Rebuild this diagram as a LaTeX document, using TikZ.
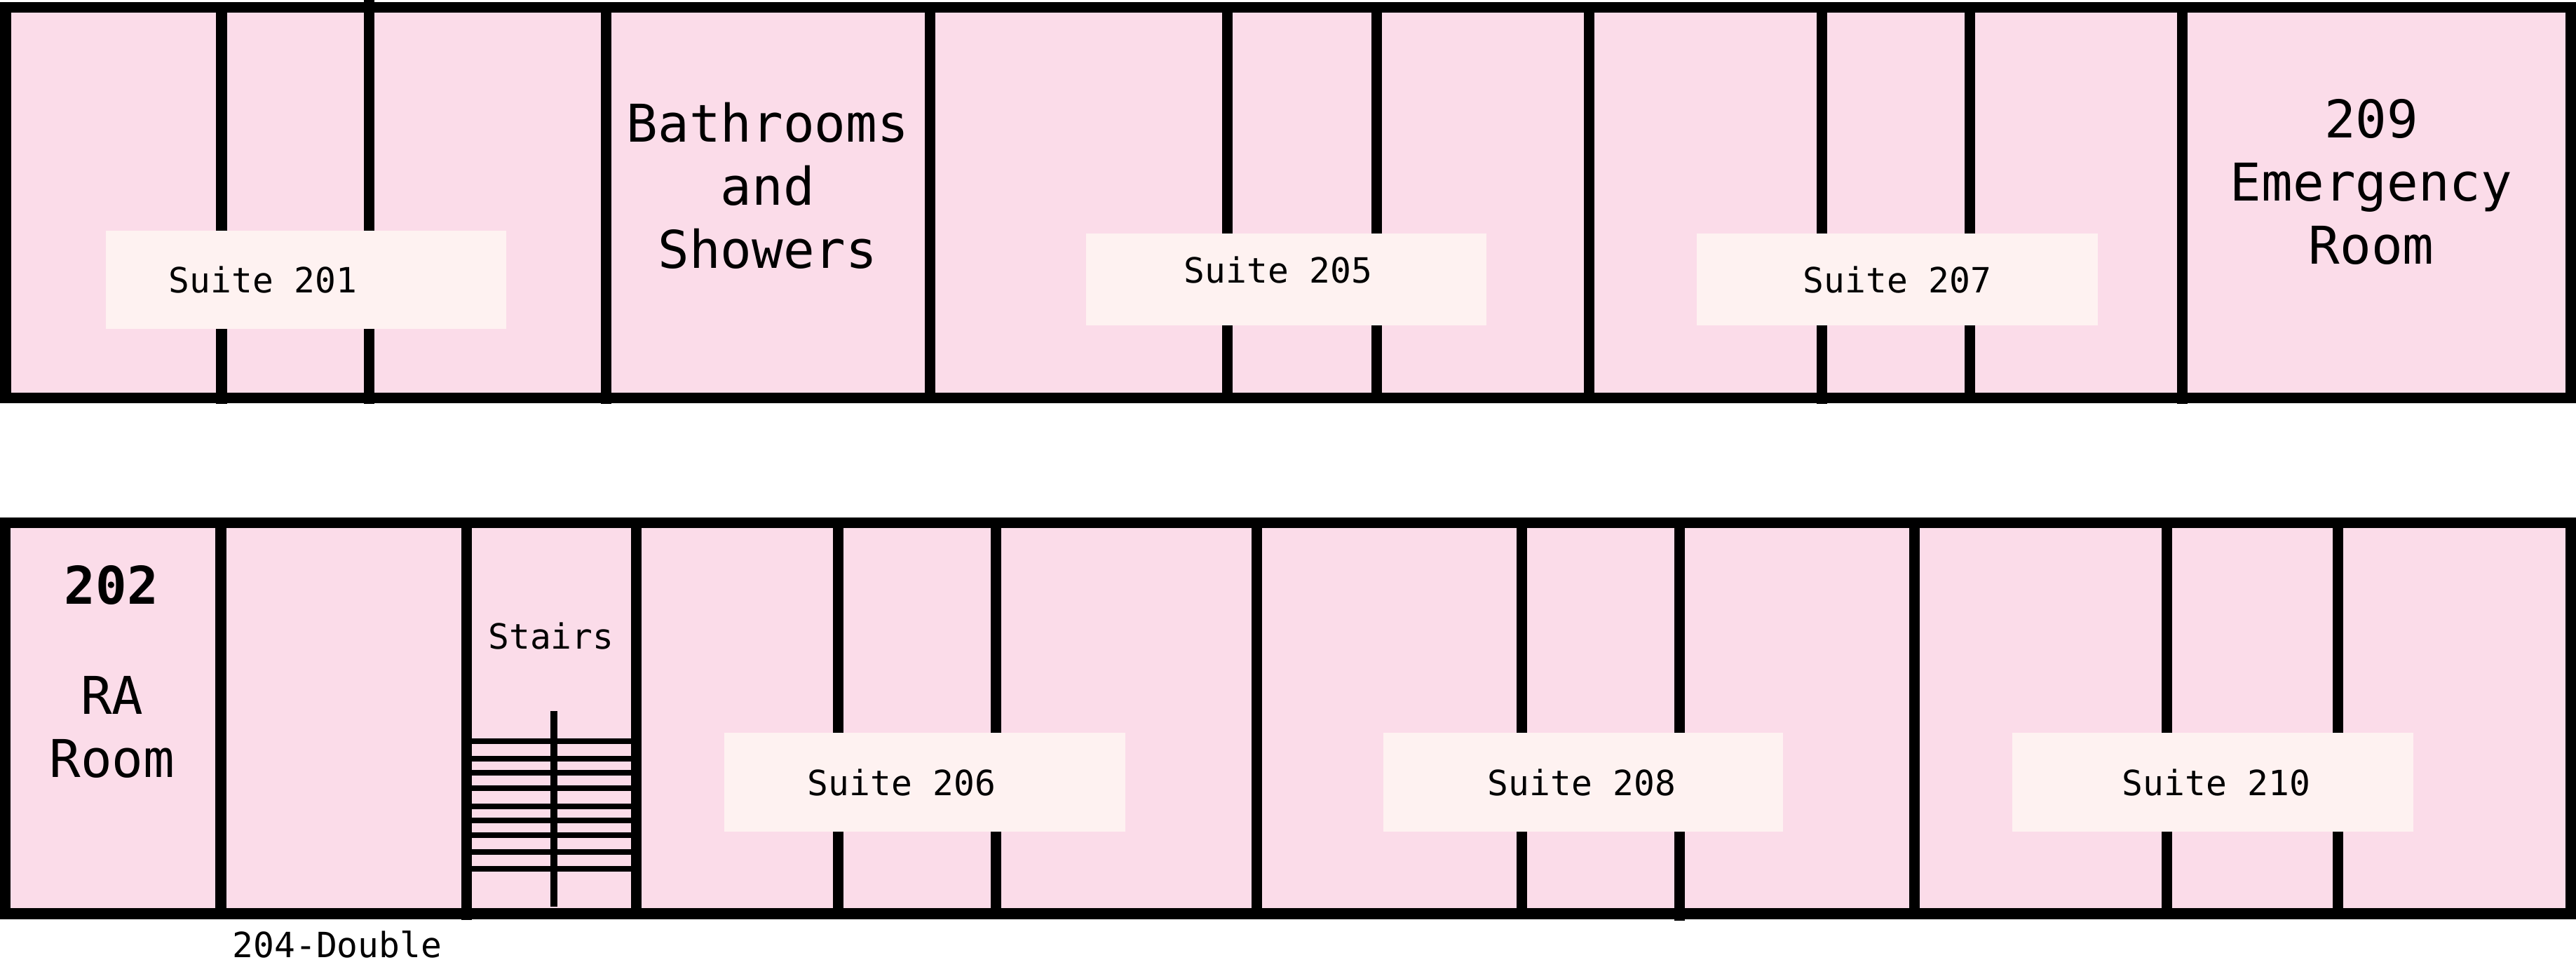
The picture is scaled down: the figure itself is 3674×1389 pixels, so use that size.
\documentclass[tikz,border=0pt]{standalone}
\usepackage{fontspec}
\usepackage{tikz}
\setmainfont{DejaVu Sans Mono}
\definecolor{roompink}{HTML}{FBDCE9}
\definecolor{tagpink}{HTML}{FEF2F1}
\tikzset{
    wall/.style={line width=0.15cm, black}, % outer and inner walls
    tread/.style={line width=0.075cm, black}, % stair steps
    band/.style={fill=roompink, draw=none},
    tag/.style={fill=tagpink, draw=none}, % pale strip under a suite name
    big label/.style={anchor=base, inner sep=0pt, align=center, font=\fontsize{21.1}{25.6}\selectfont},
    small label/.style={anchor=base, inner sep=0pt, font=\fontsize{14.1}{17}\selectfont}
}
\begin{document}
\begin{tikzpicture}[x=0.01cm, y=-0.01cm]

    \useasboundingbox (0, 0) rectangle (3674, 1389);

    % top row
    \fill[band] (8, 11) rectangle (3666, 568);
    \draw[wall] (316, 11) -- (316, 576);
    \draw[wall] (526, 0) -- (526, 576);
    \draw[wall] (864, 11) -- (864, 576);
    \draw[wall] (1326, 11) -- (1326, 575);
    \draw[wall] (1750, 11) -- (1750, 575);
    \draw[wall] (1963, 11) -- (1963, 575);
    \draw[wall] (2266, 11) -- (2266, 575);
    \draw[wall] (2598, 11) -- (2598, 576);
    \draw[wall] (2809, 11) -- (2809, 575);
    \draw[wall] (3112, 11) -- (3112, 576);
    \draw[wall] (8, 11) rectangle (3666, 568);

    % bottom row
    \fill[band] (7, 746) rectangle (3666, 1303);
    \draw[wall] (315, 746) -- (315, 1311);
    \draw[wall] (665, 746) -- (665, 1312);
    \draw[wall] (907, 746) -- (907, 1311);
    \draw[wall] (1195, 746) -- (1195, 1310);
    \draw[wall] (1420, 746) -- (1420, 1310);
    \draw[wall] (1792, 746) -- (1792, 1310);
    \draw[wall] (2170, 746) -- (2170, 1310);
    \draw[wall] (2395, 746) -- (2395, 1313);
    \draw[wall] (2730, 746) -- (2730, 1310);
    \draw[wall] (3090, 746) -- (3090, 1310);
    \draw[wall] (3334, 746) -- (3334, 1310);
    \draw[wall] (7, 746) rectangle (3666, 1303);

    % stairs
    \draw[tread] (665, 1057) -- (907, 1057);
    \draw[tread] (665, 1082) -- (907, 1082);
    \draw[tread] (665, 1102) -- (907, 1102);
    \draw[tread] (665, 1124) -- (914, 1124);
    \draw[tread] (665, 1150) -- (914, 1150);
    \draw[tread] (665, 1170) -- (907, 1170);
    \draw[tread] (665, 1191) -- (907, 1191);
    \draw[tread] (665, 1215) -- (907, 1215);
    \draw[tread] (665, 1239) -- (907, 1239);
    \draw[line width=0.1cm, black] (790, 1014) -- (790, 1293);

    % suite strips
    \fill[tag] (151, 329) rectangle (722, 469);
    \fill[tag] (1549, 333) rectangle (2120, 464);
    \fill[tag] (2420, 333) rectangle (2992, 464);
    \fill[tag] (1033, 1045) rectangle (1605, 1186);
    \fill[tag] (1973, 1045) rectangle (2543, 1186);
    \fill[tag] (2870, 1045) rectangle (3442, 1186);

    \node[small label] (suite201) at (375, 418) {Suite 201};
    \node[small label] (suite205) at (1823, 404) {Suite 205};
    \node[small label] (suite207) at (2706, 418) {Suite 207};
    \node[small label] (suite206) at (1286, 1135) {Suite 206};
    \node[small label] (suite208) at (2256, 1135) {Suite 208};
    \node[small label] (suite210) at (3161, 1135) {Suite 210};

    \node[big label] (bath) at (1095, 383) {Bathrooms\\and\\Showers};
    \node[big label] (er) at (3382, 377) {209\\Emergency\\Room};
    \node[big label, font=\fontsize{21.1}{25.6}\selectfont\bfseries] (ra202) at (159, 862) {202};
    \node[big label] (ra) at (160, 1109) {RA\\Room};

    \node[small label] (stairs) at (786, 926) {Stairs};
    \node[small label] (double204) at (481, 1366) {204-Double};

\end{tikzpicture}
\end{document}
